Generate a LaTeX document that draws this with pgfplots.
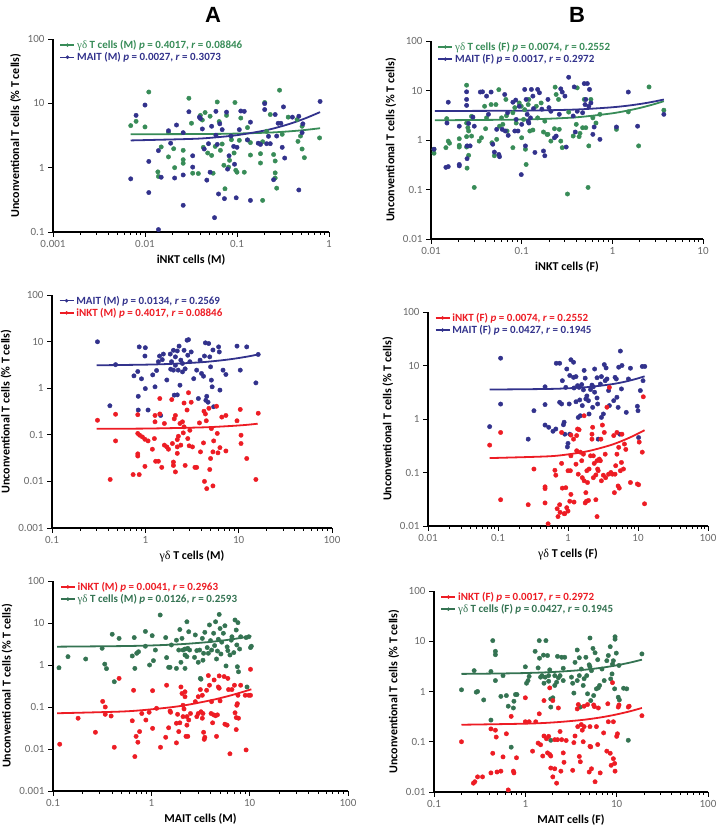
\documentclass[border=0pt]{standalone}
\usepackage{fontspec}
\setmainfont{Carlito}
\newfontfamily\grk{Liberation Serif}
\newfontfamily\ttl{Liberation Sans}
\usepackage{pgfplots}
\pgfplotsset{compat=1.18}
\definecolor{gA}{RGB}{56,140,88}
\definecolor{gB}{RGB}{52,115,82}
\definecolor{bl}{RGB}{50,50,140}
\definecolor{rd}{RGB}{237,28,36}
\definecolor{tg}{RGB}{105,105,105}
\pgfplotsset{
 legend image code/.code={\draw[mark repeat=2,mark phase=2,#1] plot coordinates {(0pt,0pt) (7pt,0pt) (14pt,0pt)};},
 every axis/.append style={
  scale only axis, anchor=south west,
  axis x line*=bottom, axis y line*=left,
  axis line style={line width=1.6pt, black},
  tick style={black, line width=0.9pt},
  tick align=outside,
  major tick length=5pt, minor tick length=3pt,
  yminorticks=false,
  ticklabel style={font=\fontsize{11}{12}\selectfont, text=tg},
  label style={font=\bfseries\fontsize{12}{13}\selectfont},
  ylabel={Unconventional T cells (\% T cells)},
  legend style={at={(0.02,1.01)}, anchor=north west, draw=none, fill=none,
    font=\bfseries\fontsize{11}{12}\selectfont, row sep=-1.5pt, inner sep=1pt},
  legend cell align=left,
 },
}
\begin{document}
\begin{tikzpicture}
\useasboundingbox (0,0) rectangle (720pt,829pt);
\node[font=\ttl\bfseries\fontsize{22}{24}\selectfont] at (213pt,814pt) {A};
\node[font=\ttl\bfseries\fontsize{22}{24}\selectfont] at (577pt,814pt) {B};

% ---------------- A1 ----------------
\begin{loglogaxis}[at={(53pt,597pt)}, width=276pt, height=193pt,
  xmin=0.001, xmax=1, ymin=0.1, ymax=100,
  xtick={0.001,0.01,0.1,1}, xticklabels={0.001,0.01,0.1,1},
  minor xtick={0.002,0.003,0.004,0.005,0.006,0.007,0.008,0.009,0.02,0.03,0.04,0.05,0.06,0.07,0.08,0.09,0.2,0.3,0.4,0.5,0.6,0.7,0.8,0.9},
  ytick={0.1,1,10,100}, yticklabels={0.1,1,10,100},
  xlabel={iNKT cells (M)}]
\addplot[only marks, mark=*, mark size=2.2pt, forget plot, gA] coordinates {(0.007,4.5)(0.008,5.25)(0.01,4.3)(0.011,15)(0.0138,0.86)(0.014,0.73)(0.015,2.1)(0.018,1.47)(0.018,3.5)(0.0205,1.97)(0.021,1.0)(0.026,1.33)(0.026,1.17)(0.026,1.86)(0.030,12)(0.032,4.9)(0.033,0.82)(0.038,0.81)(0.040,6.5)(0.042,5.5)(0.043,2.07)(0.045,7.2)(0.048,1.69)(0.051,6.3)(0.053,1.55)(0.055,0.82)(0.058,2.14)(0.061,10.5)(0.064,5.2)(0.066,1.86)(0.069,2.33)(0.072,1.09)(0.074,0.47)(0.077,6.5)(0.081,1.02)(0.083,1.3)(0.087,2.72)(0.093,1.69)(0.095,10.3)(0.097,0.91)(0.10,0.85)(0.106,2.66)(0.11,5.9)(0.12,0.85)(0.13,4.2)(0.13,2.7)(0.14,2.45)(0.14,1.57)(0.18,1.18)(0.18,1.65)(0.19,2.53)(0.19,0.31)(0.20,10.3)(0.21,3.67)(0.23,6.7)(0.25,1.6)(0.26,1.27)(0.26,0.83)(0.26,0.69)(0.27,0.48)(0.29,16)(0.31,3.3)(0.36,6.1)(0.45,5.6)(0.46,2.56)(0.49,3.1)(0.51,4.4)(0.51,1.95)(0.54,1.43)(0.79,2.9)};
\addplot[only marks, mark=*, mark size=2.2pt, forget plot, bl] coordinates {(0.007,0.67)(0.008,6.5)(0.01,9.4)(0.011,1.25)(0.011,0.41)(0.014,1.84)(0.014,0.109)(0.015,0.71)(0.018,3.75)(0.019,2.4)(0.021,0.69)(0.022,4.6)(0.026,3.5)(0.026,0.77)(0.026,0.26)(0.030,7.4)(0.033,1.53)(0.033,1.02)(0.039,6.1)(0.040,5.8)(0.042,4.0)(0.044,1.95)(0.047,0.64)(0.049,2.36)(0.051,0.85)(0.053,4.4)(0.057,0.167)(0.059,3.2)(0.059,7.5)(0.061,2.3)(0.063,0.39)(0.065,4.8)(0.069,3.9)(0.073,0.33)(0.077,7.3)(0.079,0.95)(0.082,1.53)(0.086,3.1)(0.092,2.14)(0.094,1.13)(0.098,0.34)(0.10,2.07)(0.106,3.9)(0.11,7.6)(0.12,7.5)(0.13,2.7)(0.14,5.1)(0.14,0.31)(0.17,2.4)(0.18,2.3)(0.20,9.9)(0.20,8.0)(0.21,2.36)(0.22,3.07)(0.23,2.36)(0.25,0.65)(0.26,6.7)(0.27,3.1)(0.28,4.9)(0.30,4.9)(0.31,2.07)(0.32,8.8)(0.33,1.41)(0.40,6.1)(0.47,0.45)(0.47,6.3)(0.51,3.5)(0.52,4.8)(0.80,10.7)};
\addplot[line width=1.8pt, smooth, no marks, forget plot, gA] coordinates {(0.007,3.30)(0.05,3.34)(0.1,3.39)(0.2,3.49)(0.3,3.59)(0.5,3.80)(0.8,4.10)};
\addplot[line width=1.8pt, smooth, no marks, forget plot, bl] coordinates {(0.007,2.65)(0.03,2.79)(0.05,2.90)(0.1,3.20)(0.2,3.78)(0.3,4.37)(0.4,4.95)(0.5,5.54)(0.6,6.13)(0.8,7.30)};
\addlegendimage{gA, line width=1.5pt, mark=*, mark size=1.6pt, mark options={line width=0.3pt}}
\addlegendentry{\textcolor{gA}{{\grk\mdseries γδ} T cells (M) \textit{p} = 0.4017, \textit{r} = 0.08846}}
\addlegendimage{bl, line width=1.5pt, mark=*, mark size=1.6pt, mark options={line width=0.3pt}}
\addlegendentry{\textcolor{bl}{MAIT (M) \textit{p} = 0.0027, \textit{r} = 0.3073}}
\end{loglogaxis}

% ---------------- B1 ----------------
\begin{loglogaxis}[at={(431pt,590pt)}, width=272pt, height=198pt,
  xmin=0.01, xmax=10, ymin=0.01, ymax=100,
  xtick={0.01,0.1,1,10}, xticklabels={0.01,0.1,1,10},
  minor xtick={0.02,0.03,0.04,0.05,0.06,0.07,0.08,0.09,0.2,0.3,0.4,0.5,0.6,0.7,0.8,0.9,2,3,4,5,6,7,8,9},
  ytick={0.01,0.1,1,10,100}, yticklabels={0.01,0.1,1,10,100},
  xlabel={iNKT cells (F)}]
\addplot[only marks, mark=*, mark size=2.2pt, forget plot, gA] coordinates {(0.0108,0.54)(0.0108,0.65)(0.0146,0.70)(0.0149,2.7)(0.0155,0.95)(0.016,0.86)(0.0205,1.06)(0.0205,0.72)(0.0205,0.78)(0.0247,12.8)(0.0247,2.2)(0.0247,1.17)(0.0247,0.72)(0.025,0.27)(0.0255,1.77)(0.026,1.52)(0.026,0.49)(0.028,3.0)(0.028,1.2)(0.030,0.11)(0.034,0.95)(0.036,1.11)(0.039,4.8)(0.040,1.69)(0.041,2.8)(0.046,5.2)(0.047,0.88)(0.050,0.48)(0.052,5.2)(0.053,1.03)(0.056,10.4)(0.057,1.9)(0.060,2.8)(0.062,2.07)(0.067,6.6)(0.068,3.1)(0.069,1.52)(0.080,3.55)(0.080,0.70)(0.084,4.5)(0.087,2.2)(0.094,5.6)(0.099,4.8)(0.10,1.11)(0.105,2.6)(0.108,4.1)(0.11,0.65)(0.112,0.32)(0.118,5.2)(0.12,6.6)(0.123,1.52)(0.133,1.59)(0.145,4.8)(0.15,2.8)(0.164,5.6)(0.174,1.45)(0.18,2.4)(0.19,1.3)(0.195,1.3)(0.21,0.95)(0.23,1.69)(0.234,11.7)(0.24,8.3)(0.255,6.6)(0.26,1.64)(0.27,0.95)(0.28,0.70)(0.32,0.081)(0.33,3.66)(0.37,1.2)(0.40,2.07)(0.41,11.3)(0.43,1.17)(0.44,1.36)(0.47,1.77)(0.49,6.6)(0.51,1.77)(0.54,0.11)(0.55,0.76)(0.58,6.6)(0.61,2.8)(0.66,2.2)(0.73,3.3)(1.11,1.64)(1.5,3.7)(1.95,0.76)(2.54,11.8)(3.7,4.0)};
\addplot[only marks, mark=*, mark size=2.2pt, forget plot, bl] coordinates {(0.0108,0.65)(0.0146,0.28)(0.0155,0.29)(0.0155,5.8)(0.015,2.2)(0.0205,1.9)(0.0205,0.32)(0.0205,0.30)(0.0247,9.4)(0.0247,6.6)(0.0247,5.0)(0.025,0.76)(0.025,0.42)(0.026,2.16)(0.027,0.76)(0.029,2.9)(0.030,1.9)(0.035,9.3)(0.037,9.4)(0.041,7.7)(0.043,3.3)(0.046,9.3)(0.048,0.82)(0.05,0.57)(0.053,1.64)(0.056,0.51)(0.057,0.46)(0.061,1.64)(0.065,8.3)(0.066,1.52)(0.070,3.55)(0.071,1.24)(0.08,5.8)(0.084,1.52)(0.086,6.4)(0.087,2.6)(0.091,1.52)(0.094,4.8)(0.099,0.20)(0.10,2.07)(0.108,10.5)(0.11,0.76)(0.112,6.6)(0.115,3.3)(0.118,2.4)(0.12,2.2)(0.125,2.8)(0.128,10.5)(0.133,7.7)(0.135,4.3)(0.14,0.56)(0.15,10.5)(0.157,9.0)(0.167,4.2)(0.174,0.60)(0.18,0.48)(0.195,6.6)(0.20,4.5)(0.21,3.8)(0.23,1.11)(0.24,1.2)(0.26,3.3)(0.27,10.8)(0.28,9.3)(0.30,7.7)(0.31,0.72)(0.33,18.5)(0.37,3.05)(0.38,11.8)(0.39,1.45)(0.41,3.8)(0.47,3.55)(0.49,13.8)(0.50,5.2)(0.51,6.6)(0.53,13.8)(0.55,4.8)(0.56,10.5)(0.58,5.6)(0.61,1.3)(0.63,1.83)(0.73,1.03)(1.11,1.83)(1.5,9.3)(1.9,1.9)(3.7,3.3)};
\addplot[line width=1.8pt, smooth, no marks, forget plot, gA] coordinates {(0.011,2.50)(0.1,2.59)(0.3,2.78)(0.5,2.98)(1,3.46)(1.5,3.95)(2,4.43)(2.5,4.92)(3,5.40)(3.7,6.08)};
\addplot[line width=1.8pt, smooth, no marks, forget plot, bl] coordinates {(0.011,3.85)(0.1,3.91)(0.3,4.06)(0.5,4.21)(1,4.58)(1.5,4.95)(2,5.32)(2.5,5.69)(3,6.06)(3.7,6.58)};
\addlegendimage{gA, line width=1.5pt, mark=*, mark size=1.6pt, mark options={line width=0.3pt}}
\addlegendentry{\textcolor{gA}{{\grk\mdseries γδ} T cells (F) \textit{p} = 0.0074, \textit{r} = 0.2552}}
\addlegendimage{bl, line width=1.5pt, mark=*, mark size=1.6pt, mark options={line width=0.3pt}}
\addlegendentry{\textcolor{bl}{MAIT (F) \textit{p} = 0.0017, \textit{r} = 0.2972}}
\end{loglogaxis}

% ---------------- A2 ----------------
\begin{loglogaxis}[at={(52pt,301pt)}, width=280pt, height=233pt,
  xmin=0.1, xmax=100, ymin=0.001, ymax=100,
  xtick={0.1,1,10,100}, xticklabels={0.1,1,10,100},
  minor xtick={0.2,0.3,0.4,0.5,0.6,0.7,0.8,0.9,2,3,4,5,6,7,8,9,20,30,40,50,60,70,80,90},
  ytick={0.001,0.01,0.1,1,10,100}, yticklabels={0.001,0.01,0.1,1,10,100},
  xlabel={{\grk\mdseries γδ} T cells (M)}]
\addplot[only marks, mark=*, mark size=2.2pt, forget plot, bl] coordinates {(0.307,9.9)(0.417,0.42)(0.48,3.2)(0.755,1.84)(0.83,2.28)(0.84,0.67)(0.84,0.34)(0.86,7.7)(0.91,1.59)(0.99,4.9)(1.0,7.4)(1.0,0.98)(1.07,0.34)(1.2,1.93)(1.27,1.07)(1.32,2.4)(1.38,3.7)(1.42,4.9)(1.46,0.26)(1.52,4.1)(1.56,5.4)(1.7,1.5)(1.85,5.4)(1.87,2.56)(1.91,3.7)(2.0,2.44)(2.0,6.5)(2.04,0.71)(2.1,4.7)(2.1,3.1)(2.2,0.72)(2.2,6.3)(2.25,2.44)(2.3,8.0)(2.35,1.16)(2.4,4.0)(2.5,2.24)(2.5,3.4)(2.6,6.5)(2.67,2.6)(2.8,10.7)(2.85,5.1)(2.9,11)(3.0,3.7)(3.1,6.0)(3.3,1.6)(3.55,2.44)(3.7,0.6)(3.86,4.0)(4.0,2.07)(4.2,1.81)(4.3,4.9)(4.4,9.4)(4.45,0.55)(4.55,0.67)(4.7,0.5)(4.77,9.1)(4.9,4.7)(5.0,2.87)(5.1,1.49)(5.2,1.07)(5.3,6.6)(5.4,0.40)(6.1,7.7)(6.2,6.0)(6.3,0.91)(6.8,2.44)(7.3,1.97)(9.6,8.0)(10.4,2.44)(12.2,7.7)(15.3,1.3)(16.2,5.3)};
\addplot[only marks, mark=*, mark size=2.2pt, forget plot, rd] coordinates {(0.307,0.205)(0.42,0.011)(0.48,0.276)(0.48,0.074)(0.74,0.014)(0.83,0.27)(0.83,0.107)(0.83,0.039)(0.83,0.035)(0.86,0.014)(0.87,0.098)(0.93,0.09)(0.99,0.08)(0.99,0.021)(1.07,0.074)(1.19,0.049)(1.25,0.083)(1.27,0.26)(1.27,0.19)(1.29,0.027)(1.38,0.027)(1.43,0.6)(1.43,0.28)(1.5,0.02)(1.6,0.06)(1.6,0.175)(1.7,0.055)(1.77,0.049)(1.92,0.57)(1.95,0.065)(2.0,0.026)(2.0,0.022)(2.04,0.22)(2.1,0.26)(2.1,0.016)(2.2,0.079)(2.2,0.055)(2.2,0.04)(2.26,0.093)(2.35,0.175)(2.4,0.06)(2.5,0.19)(2.55,0.11)(2.6,0.148)(2.6,0.48)(2.67,0.022)(2.8,0.34)(2.85,0.083)(2.9,0.8)(2.95,0.058)(3.0,0.125)(3.1,0.5)(3.2,0.055)(3.4,0.02)(3.55,0.02)(3.8,0.18)(3.9,0.043)(4.2,0.067)(4.25,0.32)(4.3,0.01)(4.4,0.28)(4.5,0.2)(4.55,0.007)(4.8,0.37)(4.9,0.018)(5.0,0.031)(5.1,0.136)(5.3,0.008)(5.3,0.043)(5.4,0.074)(5.8,0.41)(5.9,0.107)(6.0,0.041)(6.3,0.053)(6.6,0.24)(7.3,0.26)(7.3,0.045)(9.6,0.2)(10.4,0.35)(10.6,0.098)(10.6,0.065)(12.2,0.031)(15.3,0.011)(16.2,0.29)};
\addplot[line width=1.8pt, smooth, no marks, forget plot, bl] coordinates {(0.3,3.10)(1,3.20)(2,3.34)(4,3.61)(6,3.89)(8,4.16)(10,4.44)(13,4.85)(16,5.27)};
\addplot[line width=1.8pt, smooth, no marks, forget plot, rd] coordinates {(0.3,0.135)(1,0.136)(4,0.144)(8,0.154)(12,0.163)(16,0.173)};
\addlegendimage{bl, line width=1.5pt, mark=*, mark size=1.6pt, mark options={line width=0.3pt}}
\addlegendentry{\textcolor{bl}{MAIT (M) \textit{p} = 0.0134, \textit{r} = 0.2569}}
\addlegendimage{rd, line width=1.5pt, mark=*, mark size=1.6pt, mark options={line width=0.3pt}}
\addlegendentry{\textcolor{rd}{iNKT (M) \textit{p} = 0.4017, \textit{r} = 0.08846}}
\end{loglogaxis}

% ---------------- B2 ----------------
\begin{loglogaxis}[at={(428pt,303pt)}, width=280pt, height=214pt,
  xmin=0.01, xmax=100, ymin=0.01, ymax=100,
  xtick={0.01,0.1,1,10,100}, xticklabels={0.01,0.1,1,10,100},
  minor xtick={0.02,0.03,0.04,0.05,0.06,0.07,0.08,0.09,0.2,0.3,0.4,0.5,0.6,0.7,0.8,0.9,2,3,4,5,6,7,8,9,20,30,40,50,60,70,80,90},
  ytick={0.01,0.1,1,10,100}, yticklabels={0.01,0.1,1,10,100},
  xlabel={{\grk\mdseries γδ} T cells (F)}]
\addplot[only marks, mark=*, mark size=2.2pt, forget plot, bl] coordinates {(0.076,0.72)(0.109,13.7)(0.109,1.9)(0.326,1.43)(0.27,0.42)(0.47,4.0)(0.47,1.86)(0.47,0.77)(0.53,0.70)(0.61,0.59)(0.67,0.65)(0.68,11)(0.76,11)(0.76,2.05)(0.81,1.91)(0.83,5.2)(0.86,0.78)(0.88,0.87)(0.9,0.52)(0.93,3.9)(0.96,8.6)(0.98,0.30)(1.0,0.35)(1.04,1.91)(1.06,0.52)(1.06,6.5)(1.1,12.8)(1.2,11.5)(1.2,6.0)(1.22,3.8)(1.3,2.1)(1.3,6.2)(1.37,4.2)(1.4,1.07)(1.44,3.9)(1.47,2.27)(1.5,1.15)(1.57,4.4)(1.6,1.78)(1.66,3.5)(1.7,8.1)(1.76,5.8)(1.8,2.37)(1.86,2.7)(1.96,2.2)(2.0,1.24)(2.1,3.55)(2.2,4.3)(2.25,1.65)(2.3,4.0)(2.4,8.6)(2.4,3.17)(2.6,5.9)(2.6,2.47)(2.65,1.91)(2.7,0.42)(2.9,4.5)(3.0,6.2)(3.0,1.07)(3.2,1.24)(3.3,10.4)(3.4,5.2)(3.5,9.0)(3.6,5.6)(3.8,3.4)(3.9,1.78)(4.5,2.2)(4.7,6.0)(4.9,5.6)(5.0,2.55)(5.2,1.65)(5.3,9.3)(5.5,0.52)(5.6,18.6)(5.8,3.65)(5.9,10)(6.8,1.33)(7.3,5.6)(7.8,8.9)(9.8,1.73)(10,1.43)(10.2,0.45)(10.8,3.4)(11.5,9.6)(11.8,5.2)(12.5,9.6)};
\addplot[only marks, mark=*, mark size=2.2pt, forget plot, rd] coordinates {(0.076,0.325)(0.109,0.56)(0.109,0.031)(0.27,0.025)(0.326,0.116)(0.47,0.054)(0.47,0.05)(0.47,0.027)(0.52,0.011)(0.65,0.11)(0.67,0.089)(0.7,0.021)(0.72,0.015)(0.76,0.025)(0.77,0.018)(0.81,0.56)(0.81,0.148)(0.83,0.051)(0.88,0.017)(0.9,0.017)(0.93,0.052)(0.96,0.022)(1.0,0.108)(1.0,0.019)(1.06,0.029)(1.08,0.108)(1.1,0.5)(1.1,0.205)(1.1,0.039)(1.2,0.42)(1.22,0.028)(1.3,0.143)(1.33,0.255)(1.33,0.49)(1.37,0.65)(1.4,0.093)(1.44,0.63)(1.5,0.24)(1.57,0.166)(1.6,0.08)(1.66,0.22)(1.7,0.07)(1.7,1.15)(1.76,0.027)(1.8,0.042)(1.83,0.029)(1.86,0.108)(1.9,0.065)(1.96,0.03)(2.0,0.116)(2.1,0.205)(2.2,0.52)(2.2,0.42)(2.25,0.70)(2.3,0.205)(2.3,0.08)(2.37,0.148)(2.5,0.09)(2.5,0.031)(2.6,0.166)(2.65,0.116)(2.6,0.015)(2.7,0.108)(2.8,0.178)(2.9,0.166)(2.95,0.42)(3.0,0.07)(3.1,0.77)(3.2,0.089)(3.3,0.56)(3.4,0.22)(3.45,0.08)(3.6,1.66)(3.8,0.093)(3.9,3.9)(4.1,0.1)(4.3,0.093)(4.5,0.49)(4.6,0.042)(4.7,0.093)(4.8,0.134)(5.0,0.22)(5.0,0.56)(5.2,0.056)(5.3,0.295)(5.4,0.051)(5.6,0.108)(5.8,0.154)(5.9,0.52)(6.2,0.116)(6.4,0.34)(6.7,0.27)(7.8,0.065)(9.8,0.061)(10.2,0.059)(10.4,0.37)(11.5,0.24)(11.9,2.6)(12.4,0.026)};
\addplot[line width=1.8pt, smooth, no marks, forget plot, bl] coordinates {(0.076,3.55)(0.5,3.64)(1,3.75)(2,3.97)(4,4.42)(6,4.86)(8,5.31)(10,5.75)(12.4,6.28)};
\addplot[line width=1.8pt, smooth, no marks, forget plot, rd] coordinates {(0.076,0.186)(0.5,0.2)(1,0.218)(2,0.253)(4,0.323)(6,0.393)(8,0.463)(10,0.533)(12.4,0.617)};
\addlegendimage{rd, line width=1.5pt, mark=*, mark size=1.6pt, mark options={line width=0.3pt}}
\addlegendentry{\textcolor{rd}{iNKT (F) \textit{p} = 0.0074, \textit{r} = 0.2552}}
\addlegendimage{bl, line width=1.5pt, mark=*, mark size=1.6pt, mark options={line width=0.3pt}}
\addlegendentry{\textcolor{bl}{MAIT (F) \textit{p} = 0.0427, \textit{r} = 0.1945}}
\end{loglogaxis}

% ---------------- A3 ----------------
\begin{loglogaxis}[at={(53pt,38pt)}, width=295pt, height=210pt,
  xmin=0.1, xmax=100, ymin=0.001, ymax=100,
  xtick={0.1,1,10,100}, xticklabels={0.1,1,10,100},
  minor xtick={0.2,0.3,0.4,0.5,0.6,0.7,0.8,0.9,2,3,4,5,6,7,8,9,20,30,40,50,60,70,80,90},
  ytick={0.001,0.01,0.1,1,10,100}, yticklabels={0.001,0.01,0.1,1,10,100},
  xlabel={MAIT cells (M)}]
\addplot[only marks, mark=*, mark size=2.2pt, forget plot, gB] coordinates {(0.115,0.86)(0.142,1.58)(0.215,1.39)(0.316,2.5)(0.336,1.05)(0.35,0.82)(0.4,5.4)(0.42,0.4)(0.47,4.3)(0.64,1.64)(0.67,4.5)(0.68,0.83)(0.71,1.9)(0.74,2.07)(0.87,2.8)(0.87,6.3)(0.96,1.0)(1.02,5.0)(1.05,1.27)(1.1,2.27)(1.23,15.5)(1.4,4.5)(1.43,1.5)(1.5,0.88)(1.55,0.88)(1.6,3.0)(1.8,3.9)(1.8,0.83)(1.9,2.27)(1.95,7.0)(2.0,1.16)(2.05,4.3)(2.1,2.27)(2.2,1.73)(2.2,2.4)(2.2,0.83)(2.3,10.7)(2.3,1.58)(2.35,2.5)(2.4,6.2)(2.45,2.27)(2.75,1.52)(2.8,5.2)(2.9,2.2)(3.0,1.16)(3.1,2.27)(3.15,0.48)(3.2,0.46)(3.3,4.3)(3.35,1.3)(3.4,1.9)(3.5,6.0)(3.7,2.6)(3.8,1.9)(3.9,9.0)(4.0,3.8)(4.1,2.27)(4.3,5.7)(4.4,2.9)(4.5,10.7)(4.6,1.39)(4.7,2.15)(4.8,4.1)(4.9,16)(5.0,7.4)(5.1,1.83)(5.2,3.5)(5.4,5.7)(5.6,8.6)(5.75,0.95)(5.9,2.7)(6.0,2.2)(6.3,1.73)(6.5,3.9)(6.6,4.7)(6.9,1.97)(7.1,11.8)(7.3,6.8)(7.4,3.0)(7.5,0.91)(7.6,10.2)(7.7,0.69)(7.9,2.4)(8.1,4.7)(9.2,4.5)(9.4,0.3)(9.8,4.7)(10.2,2.6)(10.4,2.8)};
\addplot[only marks, mark=*, mark size=2.2pt, forget plot, rd] coordinates {(0.117,0.013)(0.18,0.054)(0.27,0.025)(0.32,0.136)(0.34,0.1)(0.34,0.067)(0.39,0.061)(0.42,0.011)(0.47,0.48)(0.64,0.047)(0.66,0.25)(0.68,0.0066)(0.7,0.02)(0.73,0.0145)(0.76,0.026)(0.8,0.07)(0.88,0.049)(0.95,0.075)(1.03,0.031)(1.03,0.245)(1.13,0.093)(1.24,0.011)(1.4,0.019)(1.43,0.33)(1.5,0.032)(1.55,0.08)(1.57,0.075)(1.8,0.014)(1.8,0.041)(1.85,0.067)(1.9,0.026)(1.95,0.042)(2.0,0.3)(2.05,0.21)(2.1,0.11)(2.1,0.059)(2.15,0.09)(2.2,0.176)(2.2,0.23)(2.25,0.02)(2.3,0.037)(2.3,0.059)(2.35,0.02)(2.4,0.049)(2.5,0.07)(2.8,0.134)(2.9,0.059)(3.0,0.07)(3.0,0.176)(3.15,0.26)(3.2,0.077)(3.3,0.19)(3.3,0.054)(3.35,0.07)(3.4,0.025)(3.45,0.017)(3.5,0.019)(3.65,0.25)(3.8,0.56)(3.9,0.33)(4.05,0.07)(4.1,0.134)(4.2,0.042)(4.3,0.065)(4.35,0.44)(4.5,0.062)(4.6,0.02)(4.7,0.065)(4.8,0.3)(4.9,0.55)(4.9,0.28)(5.0,0.14)(5.5,0.53)(5.6,0.039)(5.9,0.037)(6.0,0.48)(6.1,0.26)(6.3,0.0077)(6.6,0.26)(7.0,0.33)(7.1,0.073)(7.3,0.056)(7.3,0.029)(7.4,0.11)(7.5,0.12)(7.6,0.19)(7.7,0.054)(8.1,0.33)(9.0,0.19)(9.2,0.0095)(9.8,0.19)(10.2,0.79)(10.2,0.19)};
\addplot[line width=1.8pt, smooth, no marks, forget plot, gB] coordinates {(0.11,2.73)(0.5,2.82)(1,2.92)(2,3.13)(4,3.55)(6,3.97)(8,4.39)(10.4,4.89)};
\addplot[line width=1.8pt, smooth, no marks, forget plot, rd] coordinates {(0.11,0.071)(0.5,0.078)(1,0.088)(2,0.106)(4,0.144)(6,0.181)(8,0.219)(10.4,0.264)};
\addlegendimage{rd, line width=1.5pt, mark=*, mark size=1.6pt, mark options={line width=0.3pt}}
\addlegendentry{\textcolor{rd}{iNKT (M) \textit{p} = 0.0041, \textit{r} = 0.2963}}
\addlegendimage{gB, line width=1.5pt, mark=*, mark size=1.6pt, mark options={line width=0.3pt}}
\addlegendentry{\textcolor{gB}{{\grk\mdseries γδ} T cells (M) \textit{p} = 0.0126,\ \textit{r} = 0.2593}}
\end{loglogaxis}

% ---------------- B3 ----------------
\begin{loglogaxis}[at={(434pt,37pt)}, width=274pt, height=201pt,
  xmin=0.1, xmax=100, ymin=0.01, ymax=100,
  xtick={0.1,1,10,100}, xticklabels={0.1,1,10,100},
  minor xtick={0.2,0.3,0.4,0.5,0.6,0.7,0.8,0.9,2,3,4,5,6,7,8,9,20,30,40,50,60,70,80,90},
  ytick={0.01,0.1,1,10,100}, yticklabels={0.01,0.1,1,10,100},
  xlabel={MAIT cells (F)}]
\addplot[only marks, mark=*, mark size=2.2pt, forget plot, gB] coordinates {(0.2,1.08)(0.275,2.6)(0.29,0.97)(0.3,1.0)(0.35,0.68)(0.44,10.3)(0.47,6.3)(0.47,5.4)(0.47,1.65)(0.42,2.5)(0.42,0.27)(0.54,0.8)(0.57,2.07)(0.62,0.83)(0.65,0.51)(0.7,0.078)(0.74,0.47)(0.75,0.64)(0.78,0.87)(0.81,0.87)(1.0,3.1)(1.03,1.46)(1.07,1.65)(1.1,2.0)(1.28,6.3)(1.38,2.95)(1.42,10.3)(1.43,4.6)(1.47,1.93)(1.52,2.07)(1.58,5.3)(1.6,1.46)(1.65,1.93)(1.68,10.3)(1.75,5.2)(1.8,2.07)(1.8,1.6)(1.85,2.7)(1.9,0.71)(1.9,0.49)(1.9,0.107)(2.0,0.75)(2.1,2.07)(2.1,1.32)(2.2,1.53)(2.25,5.0)(2.3,1.87)(2.4,2.07)(2.5,4.8)(2.6,1.65)(2.6,2.9)(2.7,4.8)(3.2,1.93)(3.3,1.46)(3.4,0.93)(3.5,3.8)(3.7,6.7)(3.7,1.65)(3.9,4.7)(3.9,2.07)(4.0,0.49)(4.1,2.8)(4.3,1.32)(4.4,1.8)(4.6,4.8)(4.7,2.07)(4.8,0.9)(5.0,3.4)(5.1,11.6)(5.1,3.1)(5.2,0.66)(5.3,2.6)(5.5,7.2)(5.6,0.83)(5.8,5.9)(6.0,1.13)(6.2,4.3)(6.3,1.18)(6.5,1.32)(6.9,2.8)(7.3,1.65)(7.8,4.1)(8.1,5.2)(8.5,7.8)(8.6,1.78)(8.9,2.24)(9.0,3.5)(9.2,4.1)(9.5,1.13)(9.6,12.3)(9.6,11)(9.9,5.8)(10.4,0.77)(10.6,3.3)(10.7,0.68)(11.9,1.16)(12.9,1.13)(13.4,0.107)(18.9,5.6)};
\addplot[only marks, mark=*, mark size=2.2pt, forget plot, rd] coordinates {(0.2,0.1)(0.27,0.015)(0.28,0.016)(0.3,0.02)(0.34,0.02)(0.42,0.18)(0.42,0.024)(0.44,0.059)(0.47,0.17)(0.48,0.124)(0.49,0.025)(0.54,0.026)(0.57,0.05)(0.62,0.144)(0.65,0.011)(0.7,0.32)(0.74,0.026)(0.75,0.024)(0.8,0.048)(1.0,0.75)(1.0,0.25)(1.1,0.25)(1.2,0.065)(1.3,0.25)(1.38,0.094)(1.42,0.36)(1.47,0.087)(1.55,0.052)(1.6,0.66)(1.6,0.13)(1.7,0.115)(1.75,0.06)(1.8,0.128)(1.85,1.18)(1.85,0.056)(1.9,0.052)(1.9,0.03)(2.0,0.66)(2.0,0.02)(2.1,0.029)(2.1,0.11)(2.2,0.015)(2.25,0.11)(2.3,0.47)(2.4,0.16)(2.45,0.026)(2.5,0.11)(2.6,0.06)(2.65,0.039)(2.8,0.106)(3.3,0.027)(3.4,0.096)(3.5,0.13)(3.7,0.45)(3.75,0.2)(3.8,0.55)(3.9,0.051)(4.0,0.04)(4.1,0.22)(4.2,0.17)(4.3,0.1)(4.4,0.51)(4.4,0.2)(4.8,0.55)(5.0,0.025)(5.1,0.2)(5.1,0.081)(5.2,0.079)(5.3,0.029)(5.6,0.54)(5.7,0.5)(5.8,0.016)(6.0,0.2)(6.2,0.088)(6.3,0.47)(6.6,0.024)(7.2,0.15)(7.8,0.065)(8.0,0.57)(8.1,0.25)(8.5,0.059)(8.7,0.034)(9.0,1.5)(9.2,0.25)(9.2,0.046)(9.5,0.037)(9.6,0.026)(10,0.128)(10.2,0.144)(10.4,0.49)(10.6,0.54)(13.4,0.49)(13.7,0.51)(18.9,0.33)};
\addplot[line width=1.8pt, smooth, no marks, forget plot, gB] coordinates {(0.2,2.24)(0.5,2.28)(1,2.33)(2,2.44)(4,2.66)(6,2.88)(8,3.10)(10,3.32)(14,3.76)(18.9,4.30)};
\addplot[line width=1.8pt, smooth, no marks, forget plot, rd] coordinates {(0.2,0.218)(1,0.229)(2,0.242)(4,0.269)(6,0.296)(8,0.323)(10,0.35)(14,0.404)(18.9,0.47)};
\addlegendimage{rd, line width=1.5pt, mark=*, mark size=1.6pt, mark options={line width=0.3pt}}
\addlegendentry{\textcolor{rd}{iNKT (F) \textit{p} = 0.0017, \textit{r} = 0.2972}}
\addlegendimage{gB, line width=1.5pt, mark=*, mark size=1.6pt, mark options={line width=0.3pt}}
\addlegendentry{\textcolor{gB}{{\grk\mdseries γδ} T cells (F) \textit{p} = 0.0427, \textit{r} = 0.1945}}
\end{loglogaxis}
\end{tikzpicture}
\end{document}
